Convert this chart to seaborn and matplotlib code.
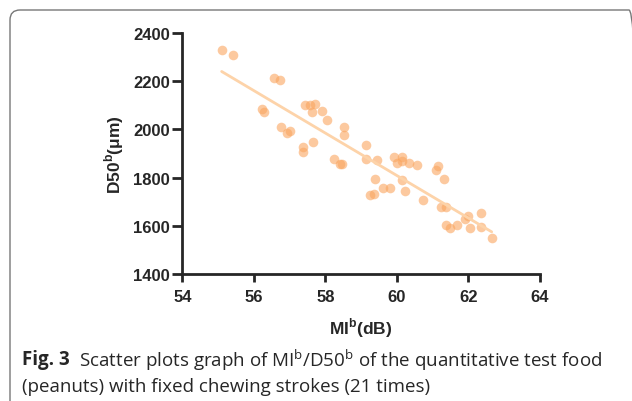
import matplotlib
matplotlib.use('Agg')
import matplotlib.pyplot as plt
import matplotlib.patches as patches
import seaborn as sns
import pandas as pd

# MI^b (dB) vs D50^b (um)
mi = [55.10, 55.43, 56.57, 56.73, 56.23, 56.28, 56.75, 56.93, 57.02, 57.37,
      57.37, 57.66, 57.43, 57.57, 57.72, 57.63, 57.91, 58.04, 58.53, 58.53,
      58.25, 58.42, 58.46, 59.13, 59.13, 59.43, 59.39, 59.24, 59.36, 59.61,
      59.82, 59.91, 60.00, 60.14, 60.14, 60.34, 60.57, 60.13, 60.23, 60.72,
      61.15, 61.10, 61.31, 61.23, 61.36, 61.36, 61.49, 61.67, 61.89, 62.00,
      62.03, 62.34, 62.34, 62.65]
d50 = [2331, 2309, 2214, 2204, 2086, 2072, 2008, 1987, 1994, 1928,
       1907, 1946, 2103, 2100, 2106, 2074, 2078, 2040, 2008, 1977,
       1876, 1858, 1858, 1934, 1876, 1872, 1795, 1729, 1732, 1757,
       1757, 1885, 1861, 1886, 1869, 1861, 1854, 1788, 1746, 1708,
       1848, 1830, 1794, 1676, 1676, 1602, 1592, 1602, 1630, 1641,
       1592, 1652, 1597, 1550]
x_ticks = [54, 56, 58, 60, 62, 64]
y_ticks = [1400, 1600, 1800, 2000, 2200, 2400]

df = pd.DataFrame({'MI': mi, 'D50': d50})

sns.set_style('ticks')
plt.rcParams['mathtext.fontset'] = 'custom'
plt.rcParams['mathtext.rm'] = 'Open Sans'
plt.rcParams['mathtext.bf'] = 'Liberation Sans:bold'
plt.rcParams['font.family'] = ['Liberation Sans', 'DejaVu Sans']

fig = plt.figure(figsize=(6.32, 4.02), dpi=100)
ax = fig.add_axes([182.3/632, 1-275/402, (540-182.3)/632, (275-34)/402])

sns.regplot(data=df, x='MI', y='D50', ax=ax, ci=None,
            scatter_kws={'s': 48, 'color': '#faa55f', 'alpha': 0.6, 'linewidths': 0},
            line_kws={'color': '#fdd3a9', 'lw': 2})

ax.set_xlim(54, 64)
ax.set_ylim(1400, 2400)
ax.set_xticks(x_ticks)
ax.set_yticks(y_ticks)
sns.despine(ax=ax)
for s in ['left', 'bottom']:
    ax.spines[s].set_linewidth(2)
ax.tick_params(axis='x', width=2, length=6, labelsize=12, pad=5)
ax.tick_params(axis='y', width=2, length=7.5, labelsize=12, pad=1.5)
for lab in ax.get_xticklabels() + ax.get_yticklabels():
    lab.set_fontweight('bold')
ax.set_xlabel(r'MI$^{\mathbf{b}}$(dB)', fontsize=12.5, fontweight='bold', labelpad=8)
ax.set_ylabel(r'D50$^{\mathbf{b}}$(μm)', fontsize=12.5, fontweight='bold', labelpad=5)

# frame around figure (right edge mostly cut off)
box = patches.FancyBboxPatch((10, -30), 629, 402 - 11 + 30,
                             boxstyle='round,pad=0,rounding_size=10',
                             transform=None, fill=False, edgecolor='#777777', lw=1)
fig.patches.append(box)

# caption
cap_font = ['Open Sans', 'DejaVu Sans']
t1 = fig.text(22/632, 1-360/402, 'Fig. 3', fontsize=13.5, fontweight='bold',
              family=cap_font, va='center')
fig.canvas.draw()
r = fig.canvas.get_renderer()
w = t1.get_window_extent(r).width
fig.text((22 + w + 9)/632, 1-360/402,
         r'Scatter plots graph of MI$^{\mathrm{b}}$/D50$^{\mathrm{b}}$ of the quantitative test food',
         fontsize=13.5, family=cap_font, va='center')
fig.text(22/632, 1-387/402, '(peanuts) with fixed chewing strokes (21 times)',
         fontsize=13.5, family=cap_font, va='center')

fig.savefig('out.png', dpi=100)
